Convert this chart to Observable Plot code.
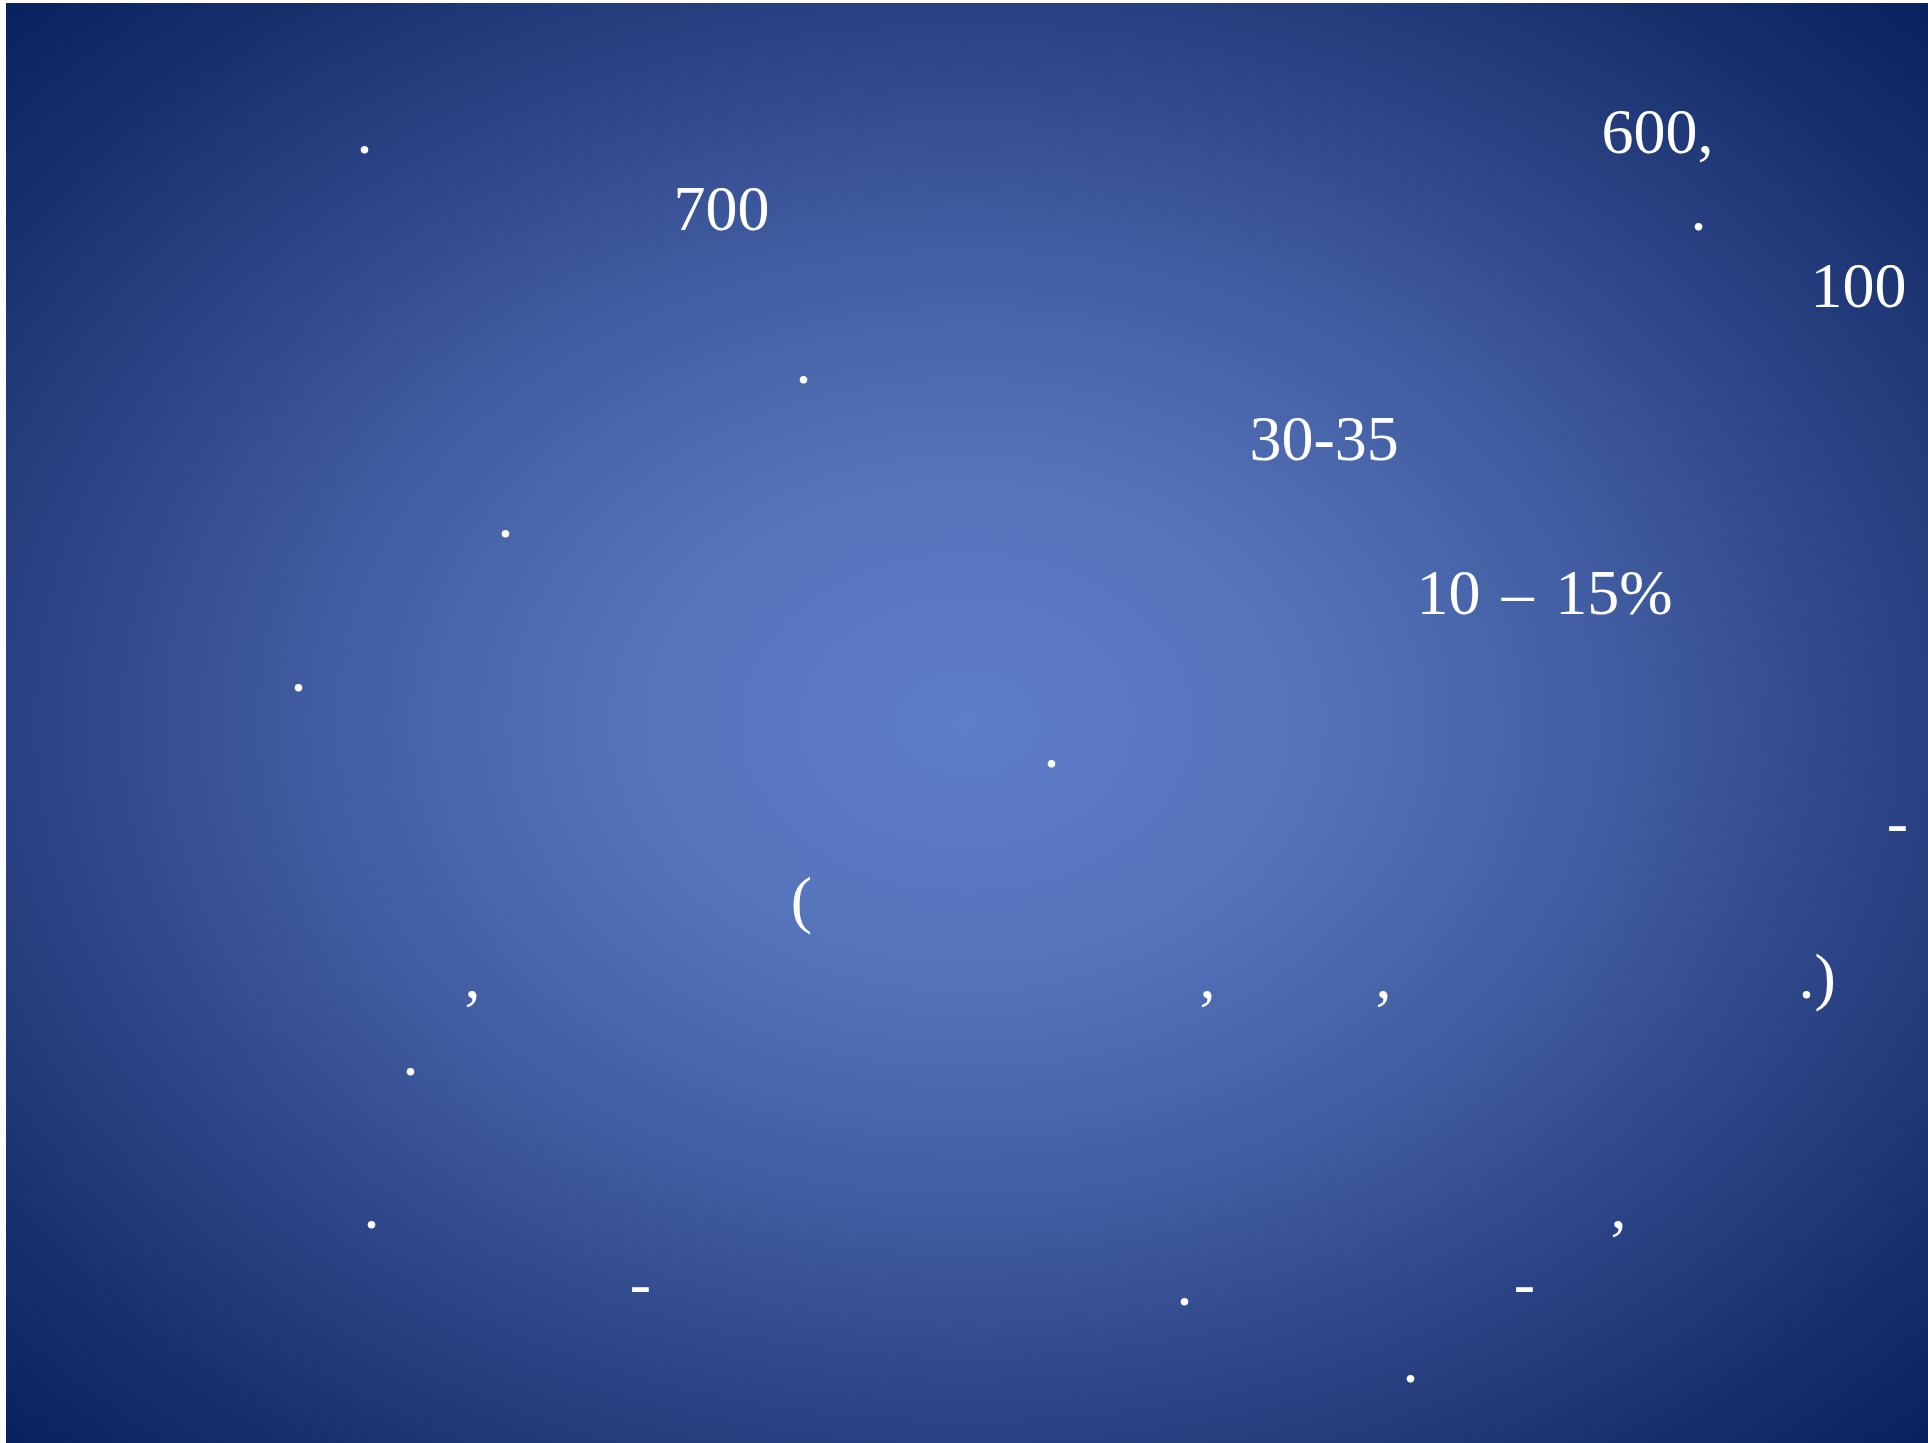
<!DOCTYPE html>
<html>
<head>
<meta charset="utf-8">
<script src="https://cdn.jsdelivr.net/npm/d3@7"></script>
<script src="https://cdn.jsdelivr.net/npm/@observablehq/plot@0.6"></script>
<style>
  html, body { margin: 0; padding: 0; background: #ffffff; overflow: hidden; }
  #chart { position: absolute; left: 6px; top: 3px; }
</style>
</head>
<body>
<div id="chart"></div>
<script>
// Text fragments left-aligned at a start position (slide units, px) on a text row
const startLabels = ["600,", "700", "100", "30-35", "10 \u200A\u2013 \u200A15%", ".)"];
const startRows   = [0, 1, 2, 4, 6, 11];
const startX      = [1595, 667, 1804, 1243, 1410, 1792];

// Single punctuation marks centred at a position on a text row
const markLabels = [".", ".", ".", ".", ".", ".", "-", "(", ",", ",", ",", ".", ".", ",", "-", ".", "-", "."];
const markRows   = [0, 1, 3, 5, 7, 8, 9, 10, 11, 11, 11, 12, 14, 14, 15, 15, 15, 16];
const markX      = [358, 1692, 797, 499, 292, 1045, 1891, 795, 466, 1201, 1377, 404, 365, 1612, 634, 1178, 1518, 1404];

const startData = startLabels.map((t, i) => ({text: t, row: startRows[i], x: startX[i]}));
const markData = markLabels.map((t, i) => ({text: t, row: markRows[i], x: markX[i]}));

const W = 1922, H = 1440;
const chart = Plot.plot({
  width: W,
  height: H,
  margin: 0,
  style: "background: radial-gradient(ellipse farthest-corner at 50% 50%, #5F7EC8 0%, #5473BB 25%, #415CA0 48%, #2A4283 70%, #17306C 86%, #0A2160 100%); font-family: 'Liberation Serif', serif;",
  x: {domain: [0, W], range: [0, W], axis: null},
  y: {domain: [0, 16], range: [149.5, 1378.3], axis: null},
  marks: [
    Plot.text(startData, {
      x: "x", y: "row", text: "text",
      textAnchor: "start", lineAnchor: "bottom",
      fill: "white", fontSize: 64, fontFamily: "Liberation Serif"
    }),
    Plot.text(markData, {
      x: "x", y: "row", text: "text",
      textAnchor: "middle", lineAnchor: "bottom",
      fill: "white", fontSize: 64, fontFamily: "Liberation Serif"
    })
  ]
});
document.getElementById("chart").appendChild(chart);
</script>
</body>
</html>
